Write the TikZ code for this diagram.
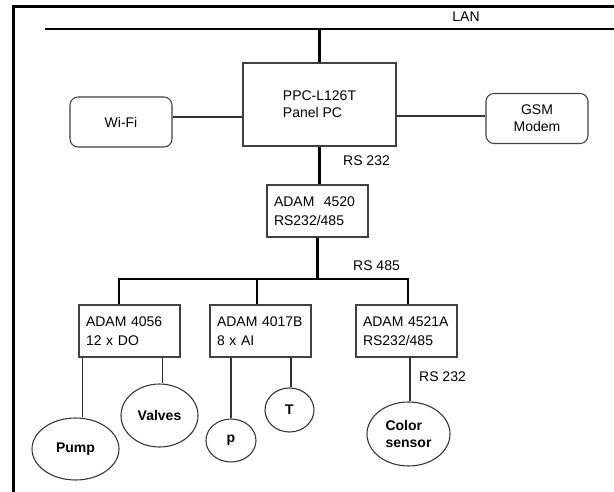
\documentclass[tikz,border=0pt]{standalone}
\usepackage{fontspec}
\setmainfont{Liberation Sans}
\usetikzlibrary{shapes.geometric}
\begin{document}
\begin{tikzpicture}[x=0.75pt,y=-0.75pt,
  font=\fontsize{10.5}{14}\selectfont,
  thin line/.style={draw=black!80,line width=0.8pt},
  thick line/.style={draw=black,line width=1.6pt},
  plainbox/.style={draw=black!75,line width=0.8pt,align=left,inner sep=0pt},
  adambox/.style={plainbox,text width=65.25pt,inner xsep=5.25pt,minimum height=39pt},
  roundbox/.style={draw=black!75,line width=0.8pt,rounded corners=6pt,align=center,
     minimum width=76.5pt,minimum height=37.5pt,inner sep=0pt},
  devell/.style={ellipse,draw=black!80,line width=0.8pt,inner sep=0pt,align=left,font=\fontsize{10.5}{12.75}\selectfont\bfseries},
  lbl/.style={inner sep=0pt}]
\useasboundingbox (0,0) rectangle (614,492);
\fill[white] (0,0) rectangle (614,492);
% frame
\draw[line width=2.25pt] (13.5,492) -- (13.5,6.3) -- (614,6.3);
% LAN
\coordinate (lanL) at (45,29);
\coordinate (lanR) at (614,29);
\draw[thick line] (lanL) -- (lanR);
\node[lbl] (lan) at (466,17) {LAN};
% Panel PC
\node[plainbox,minimum width=114.75pt,minimum height=62.25pt,
  font=\fontsize{10.5}{12.75}\selectfont] (pc) at (319.5,104.5) {PPC-L126T\\Panel PC};
\draw[thick line] (pc.north) -- (pc.north |- lanL);
\node[roundbox] (wifi) at (121,122) {Wi-Fi};
\node[roundbox,font=\fontsize{10.5}{12.75}\selectfont] (gsm) at (537,118.5) {GSM\\Modem};
\draw[thin line] ([yshift=3.75pt]wifi.east) -- ([yshift=3.75pt]wifi.east -| pc.west);
\draw[thin line] ([yshift=1.9pt]gsm.west) -- ([yshift=1.9pt]gsm.west -| pc.east);
% ADAM 4520
\node[adambox] (a4520) at (317.5,211) {ADAM\ \ 4520\\RS232/485};
\draw[thick line] (pc.south) -- (pc.south |- a4520.north);
\node[lbl] (rs232a) at (366.5,161) {RS 232};
% bus
\coordinate (bus) at (320,279);
\node[lbl] (rs485) at (376.5,266) {RS 485};
\node[adambox] (A) at (129.5,331) {ADAM 4056\\12 x DO};
\node[adambox] (B) at (260.5,331) {ADAM 4017B\\8 x AI};
\node[adambox] (C) at (406.5,331) {ADAM 4521A\\RS232/485};
\draw[thick line] (a4520.south) -- (a4520.south |- bus);
\draw[thick line] ([xshift=-7.9pt]A.north) -- ([xshift=-7.9pt]A.north |- bus)
   -- ([xshift=1.1pt]C.north |- bus) -- ([xshift=1.1pt]C.north);
\draw[thick line] ([xshift=-2.6pt]B.north) -- ([xshift=-2.6pt]B.north |- bus);
% devices
\node[devell,minimum width=65.25pt,minimum height=46.5pt] (pump) at (75.5,449) {Pump};
\node[devell,minimum width=57.75pt,minimum height=47.25pt] (valves) at (159.5,415.5) {Valves};
\node[devell,minimum width=37.5pt,minimum height=32.25pt] (p) at (231,440.5) {p};
\node[devell,minimum width=36.75pt,minimum height=33pt] (T) at (289.5,410) {T};
\node[devell,minimum width=62.25pt,minimum height=48pt] (color) at (408.5,434) {Color\\sensor};
\draw[thin line] ([xshift=4.9pt]pump.north) -- ([xshift=4.9pt]pump.north |- A.south);
\draw[thin line] ([xshift=1.9pt]valves.north) -- ([xshift=1.9pt]valves.north |- A.south);
\draw[thin line] (p.north) -- (p.north |- B.south);
\draw[thin line] ([xshift=1.1pt]T.north) -- ([xshift=1.1pt]T.north |- B.south);
\draw[thin line] ([xshift=1.1pt]color.north) -- ([xshift=1.1pt]color.north |- C.south);
\node[lbl] (rs232b) at (442.5,377) {RS 232};
\end{tikzpicture}
\end{document}
